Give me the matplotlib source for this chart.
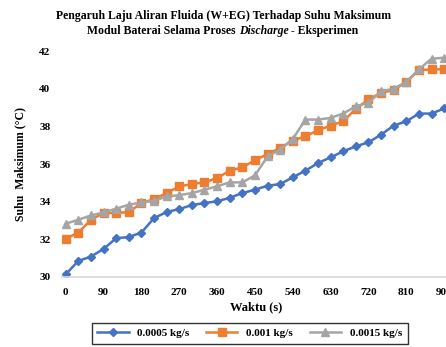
import numpy as np
import matplotlib
matplotlib.use('Agg')
import matplotlib.pyplot as plt

waktu = np.arange(0, 901, 30)

suhu_0005 = [30.14, 30.85, 31.08, 31.49, 32.06, 32.12, 32.36, 33.13, 33.45, 33.61,
             33.82, 33.93, 34.02, 34.21, 34.46, 34.64, 34.85, 34.94, 35.30, 35.65,
             36.06, 36.36, 36.68, 36.95, 37.16, 37.57, 38.05, 38.28, 38.69, 38.69, 38.96]
suhu_001 = [32.03, 32.36, 33.04, 33.40, 33.40, 33.45, 33.93, 34.14, 34.46, 34.82,
            34.94, 35.03, 35.26, 35.65, 35.83, 36.20, 36.54, 36.86, 37.25, 37.48,
            37.80, 38.05, 38.28, 38.94, 39.44, 39.80, 39.94, 40.38, 41.00, 41.04, 41.04]
suhu_0015 = [32.83, 33.04, 33.27, 33.43, 33.63, 33.84, 33.96, 34.05, 34.28, 34.35,
             34.46, 34.64, 34.82, 35.03, 35.03, 35.40, 36.41, 36.77, 37.34, 38.37,
             38.37, 38.46, 38.69, 39.08, 39.26, 39.88, 40.01, 40.38, 41.04, 41.61, 41.66]

labels = ['0.0005 kg/s', '0.001 kg/s', '0.0015 kg/s']
xticks = np.arange(0, 901, 90)
yticks = np.arange(30, 43, 2)

plt.rcParams['font.family'] = 'Liberation Serif'
plt.rcParams['font.weight'] = 'bold'

fig = plt.figure(figsize=(4.46, 3.47), dpi=100)
ax = fig.add_axes([0.138, 0.202, 0.872, 0.65])

ax.plot(waktu, suhu_0005, color='#4472C4', lw=1.8, marker='D', ms=3.8, label=labels[0])
ax.plot(waktu, suhu_001, color='#ED7D31', lw=1.8, marker='s', ms=5.2, label=labels[1])
ax.plot(waktu, suhu_0015, color='#A5A5A5', lw=1.8, marker='^', ms=5.5, label=labels[2])

ax.set_xlim(-10, 915)
ax.set_ylim(30, 42)
ax.set_xticks(xticks)
ax.set_yticks(yticks)
ax.tick_params(length=0, labelsize=8, pad=8)
for s in ['top', 'right', 'left']:
    ax.spines[s].set_visible(False)
ax.spines['bottom'].set_color('#D9D9D9')
ax.spines['bottom'].set_linewidth(1.2)

ax.set_xlabel('Waktu (s)', fontsize=9, fontweight='bold', labelpad=3)
ax.set_ylabel('Suhu  Maksimum (°C)', fontsize=8.5, fontweight='bold', labelpad=9)

fig.text(0.5, 0.955, 'Pengaruh Laju Aliran Fluida (W+EG) Terhadap Suhu Maksimum',
         ha='center', va='center', fontsize=8.5, fontweight='bold')

# second title line with italic word
parts = [('Modul Baterai Selama Proses ', 'normal'), ('Discharge', 'italic'),
         (' - Eksperimen', 'normal')]
fig.canvas.draw()
r = fig.canvas.get_renderer()
texts = []
for p, st in parts:
    t = fig.text(0, 0.912, p, fontsize=8.5, fontweight='bold', style=st, va='center')
    texts.append(t)
widths = [t.get_window_extent(r).width for t in texts]
x0 = (fig.bbox.width - sum(widths)) / 2
for t, w in zip(texts, widths):
    t.set_x(x0 / fig.bbox.width)
    x0 += w

leg = fig.legend(loc='center', bbox_to_anchor=(0.56, 0.04), ncol=3, fontsize=8,
                 frameon=True, fancybox=False, edgecolor='black',
                 handlelength=2.8, columnspacing=1.5, borderpad=0.5)
leg.get_frame().set_linewidth(1.0)

fig.savefig('out.png', dpi=100)
